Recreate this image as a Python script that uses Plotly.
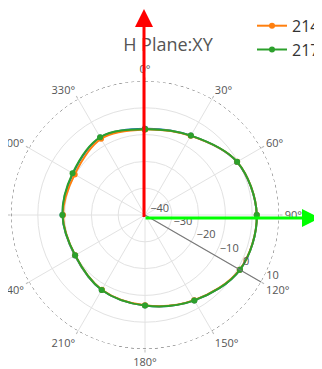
import plotly.graph_objects as go

# angles of the measured points (deg) and gain per trace (dBi)
angles = [0, 30, 60, 90, 120, 150, 180, 210, 240, 270, 300, 330, 360]
names = ["2110MHz", "2140MHz", "2170MHz"]
gain_blue = [-7.8, -5.8, -0.4, 1.7, 0.9, -3.2, -6.2, -7.7, -9.8, -9.2, -9.0, -6.6, -7.8]
gain_orange = [-8.1, -5.9, -0.3, 1.7, 0.8, -3.3, -6.3, -7.8, -9.9, -9.4, -9.7, -7.2, -8.1]
gain_green = [-8.0, -5.8, -0.3, 1.7, 0.9, -3.2, -6.2, -7.7, -9.9, -9.2, -8.8, -6.5, -8.0]
colors = ["#1f77b4", "#ff7f0e", "#2ca02c"]

r_min, r_max = -40, 10

# page body has an 8px margin, so the figure is drawn a bit smaller
OFF = 8
W, H = 314, 361
cx, cy, rad = 145, 215, 134   # polar centre / radius in page px


def px_x(v):
    return (v - OFF) / W


def px_y(v):
    return 1 - (v - OFF) / H


fig = go.Figure()

for name, g, c in zip(names, [gain_blue, gain_orange, gain_green], colors):
    fig.add_trace(go.Scatterpolar(
        r=g, theta=angles, name=name, mode="lines+markers",
        line=dict(color=c, width=2, shape="spline"),
        marker=dict(color=c, size=6),
    ))

# dotted outer ring
ring_theta = list(range(0, 361, 2))
fig.add_trace(go.Scatterpolar(
    r=[r_max] * len(ring_theta), theta=ring_theta, mode="lines",
    line=dict(color="#555", width=1, dash="dot"),
    showlegend=False, hoverinfo="skip",
))

fig.update_layout(
    width=W, height=H,
    margin=dict(l=0, r=0, t=0, b=0, autoexpand=False),
    paper_bgcolor="white",
    font=dict(family="Open Sans, sans-serif", color="#444"),
    title=dict(text="H Plane:XY", x=px_x(168), y=px_y(45),
               xanchor="center", yanchor="middle",
               font=dict(size=18, color="#555")),
    legend=dict(x=px_x(252), y=px_y(-15), xanchor="left", yanchor="top",
                font=dict(size=16, color="#333"), bgcolor="white"),
    polar=dict(
        domain=dict(x=[px_x(cx - rad), px_x(cx + rad)],
                    y=[px_y(cy + rad), px_y(cy - rad)]),
        bgcolor="white",
        angularaxis=dict(rotation=90, direction="clockwise", dtick=30,
                         gridcolor="#e2e2e2", showline=False,
                         ticks="outside", ticklen=3, tickcolor="#bbb",
                         tickfont=dict(size=11, color="#555")),
        radialaxis=dict(range=[r_min, r_max], dtick=10, angle=-30,
                        side="counterclockwise", tickangle=-30,
                        gridcolor="#e2e2e2", linecolor="#777",
                        tickfont=dict(size=11, color="#555")),
    ),
    showlegend=True,
)

# darker cross through the centre
fig.add_shape(type="line", xref="paper", yref="paper",
              x0=px_x(cx - rad), x1=px_x(cx + rad), y0=px_y(cy), y1=px_y(cy),
              line=dict(color="#999", width=1), layer="below")
fig.add_shape(type="line", xref="paper", yref="paper",
              x0=px_x(cx), x1=px_x(cx), y0=px_y(cy - rad), y1=px_y(cy + rad),
              line=dict(color="#999", width=1), layer="below")

# red / green direction arrows
fig.add_annotation(x=px_x(144), y=px_y(8.5), xref="paper", yref="paper",
                   ax=0, ay=210, text="", showarrow=True,
                   arrowhead=2, arrowsize=1.2, arrowwidth=3, arrowcolor="#ff0000")
fig.add_annotation(x=px_x(320), y=px_y(218), xref="paper", yref="paper",
                   ax=-176, ay=0, text="", showarrow=True,
                   arrowhead=2, arrowsize=1.2, arrowwidth=3, arrowcolor="#00ff00")

fig.write_html("out.html")
